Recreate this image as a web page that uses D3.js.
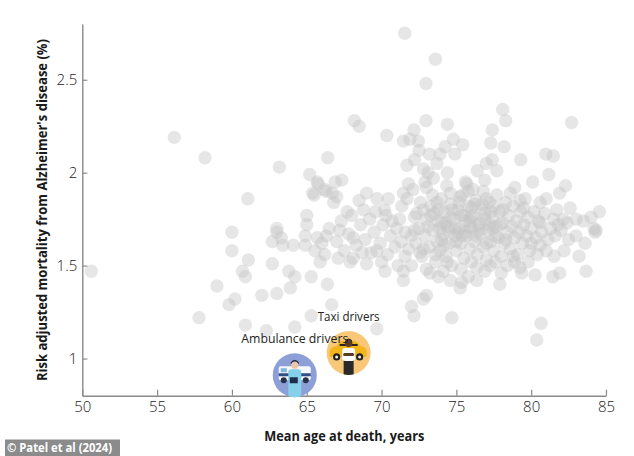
<!DOCTYPE html>
<html><head><meta charset="utf-8">
<script src="https://cdn.jsdelivr.net/npm/d3@7"></script>
<style>
html,body{margin:0;padding:0;background:#fff;}
svg{display:block;}
</style></head>
<body>
<svg id="chart" width="634" height="456"></svg>
<script>
// ---- data ----
const ages = [
50.6,56.15,58.2,57.8,59.0,59.8,60.2,60.9,60.9,61.1,60.7,60.0,60.0,61.06,62.0,63.0,63.9,62.7,63.8,64.2,
65.3,65.3,64.2,62.3,62.7,63.4,64.1,64.9,65.55,63.0,64.9,63.0,63.17,65.2,65.7,65.4,65.0,65.0,63.3,65.7,
66.3,67.2,68.1,66.4,66.9,66.7,66.2,66.8,67.7,68.5,69.0,69.7,70.45,70.2,68.8,65.77,65.5,66.3,67.0,67.34,
69.2,70.7,72.2,72.8,73.7,74.6,75.25,76.1,71.35,71.7,71.55,73.6,72.97,78.1,78.3,82.7,68.18,68.5,72.97,74.4,
70.35,72.17,71.46,71.9,74.8,75.43,77.4,77.3,78.19,79.3,80.98,81.48,81.18,82.3,84.56,81.9,74.4,74.9,73.9,73.2,
72.5,72.2,71.7,73.1,73.46,72.9,71.46,71.8,72.1,71.2,72.35,75.7,76.4,77.0,77.7,76.9,78.9,80.1,79.25,80.6,
81.0,81.7,82.6,83.0,83.5,82.15,81.5,84.2,84.34,82.4,81.8,81.53,83.2,83.67,81.9,81.45,80.26,79.37,78.9,77.9,
80.6,80.0,80.6,77.4,76.36,75.25,75.36,74.7,80.66,80.37,72.8,73.0,72.0,72.17,69.68,66.67,66.38,71.46,70.23,71.46,
73.24,74.13,76.36,77.25,78.8,79.25,84.27,68.1,67.1,69.0,69.68,71.57,72.57,72.46,74.25,72.8,73.7,73.0,74.36,75.6,
66.0,66.5,67.0,67.5,67.8,68.3,68.6,68.9,69.3,69.5,69.9,70.1,70.4,70.6,70.9,71.0,71.3,71.6,71.8,72.0,
66.2,67.3,68.0,69.6,70.3,71.1,70.0,68.7,67.9,65.9,
72.3,72.5,72.7,72.9,73.0,73.2,73.3,73.4,73.6,73.7,73.8,73.9,74.0,74.1,74.2,74.3,74.4,74.5,74.6,74.7,
74.8,74.9,75.0,75.1,75.2,75.3,75.4,75.5,75.6,75.7,75.8,75.9,76.0,76.1,76.2,76.3,76.4,76.5,76.6,76.7,
76.8,76.9,77.0,77.1,77.2,77.3,77.4,77.5,77.6,77.7,77.8,77.9,78.0,78.1,78.2,78.3,78.4,78.5,78.6,78.7,
78.8,78.9,79.0,79.1,79.2,79.3,79.4,79.5,79.6,79.7,79.8,79.9,80.0,80.2,80.3,80.5,80.7,80.9,81.1,81.3,
81.6,82.0,82.5,83.0,83.6,84.0,
73.1,73.5,73.9,74.2,74.6,74.9,75.3,75.6,75.9,76.3,76.6,77.0,77.3,77.6,77.9,78.3,74.0,75.0,76.0,77.0,
72.6,73.4,75.8,76.8,78.6,79.5,72.2,72.8,73.6,74.4,75.3,76.0,76.9,77.6,78.4,79.8,80.4,81.0,82.2,72.0,
73.0,73.8,74.6,78.0,75.8,
74.3,74.7,75.1,75.5,75.9,76.2,76.5,76.9,77.2,77.5,73.8,74.5,75.2,76.0,76.7,77.4,78.1,73.3,74.0,75.4
];
const rates = [
1.47,2.19,2.08,1.22,1.39,1.29,1.32,1.18,1.44,1.53,1.47,1.58,1.68,1.86,1.34,1.35,1.38,1.51,1.47,1.44,
1.44,1.23,1.17,1.15,1.63,1.61,1.61,1.61,1.58,1.68,1.66,1.70,2.03,1.99,1.95,1.89,1.77,1.72,1.65,1.65,
1.66,1.69,1.65,2.08,1.95,1.89,1.91,1.84,1.79,1.85,1.89,1.86,1.86,1.80,1.80,1.94,1.88,1.90,1.87,1.96,
1.75,1.74,1.76,1.80,1.84,1.89,1.87,1.91,1.82,1.86,2.75,2.61,2.48,2.34,2.28,2.27,2.28,2.25,2.28,2.26,
2.20,2.23,2.17,2.18,2.18,2.15,2.23,2.16,2.14,2.07,2.10,2.09,1.99,1.93,1.79,1.89,2.00,2.10,2.10,2.10,
2.12,2.07,2.04,2.00,1.97,1.95,1.89,1.94,1.91,1.75,1.78,1.94,2.01,2.05,2.01,1.96,1.92,1.95,1.85,1.84,
1.86,1.80,1.81,1.75,1.74,1.75,1.75,1.70,1.69,1.73,1.72,1.55,1.55,1.47,1.46,1.44,1.45,1.46,1.52,1.40,
1.61,1.62,1.73,2.07,1.42,1.38,1.41,1.22,1.19,1.10,1.32,1.34,1.28,1.23,1.16,1.29,1.40,1.42,1.47,1.47,
1.46,1.47,1.49,1.50,1.55,1.49,1.68,1.54,1.54,1.51,1.58,1.55,1.57,2.17,2.14,2.02,2.05,1.92,1.93,1.95,
1.62,1.70,1.63,1.58,1.67,1.61,1.72,1.64,1.57,1.68,1.62,1.72,1.56,1.66,1.60,1.70,1.63,1.68,1.59,1.66,
1.56,1.74,1.77,1.79,1.77,1.50,1.52,1.57,1.52,1.52,
1.62,1.70,1.55,1.66,1.75,1.60,1.82,1.69,1.52,1.63,1.74,1.58,1.86,1.67,1.79,1.55,1.71,1.62,1.83,1.50,
1.75,1.66,1.58,1.80,1.70,1.62,1.88,1.54,1.74,1.66,1.82,1.59,1.70,1.77,1.63,1.85,1.56,1.72,1.67,1.80,
1.60,1.75,1.53,1.69,1.84,1.63,1.76,1.58,1.71,1.88,1.65,1.79,1.55,1.73,1.62,1.84,1.68,1.77,1.59,1.71,
1.82,1.65,1.74,1.56,1.68,1.79,1.62,1.72,1.86,1.66,1.76,1.58,1.70,1.79,1.65,1.74,1.68,1.78,1.64,1.70,
1.66,1.69,1.64,1.66,1.62,1.76,
1.71,1.78,1.70,1.61,1.76,1.70,1.77,1.68,1.74,1.66,1.73,1.62,1.79,1.66,1.72,1.64,1.64,1.63,1.81,1.86,
1.84,1.88,1.90,1.90,1.89,1.81,1.69,1.59,1.56,1.52,1.48,1.52,1.47,1.52,1.50,1.52,1.56,1.58,1.58,1.50,
1.48,1.44,1.42,1.46,1.44,
1.73,1.80,1.68,1.77,1.71,1.83,1.69,1.78,1.72,1.82,1.80,1.69,1.84,1.76,1.83,1.70,1.80,1.77,1.73,1.66
];
const groups = ["Ambulance drivers", "Taxi drivers"];
const groupAges = [64.2, 67.8];
const groupRates = [0.91, 1.03];
const xTicks = [50, 55, 60, 65, 70, 75, 80, 85];
const yTicks = [1, 1.5, 2, 2.5];
const xTitle = "Mean age at death, years";
const yTitle = "Risk adjusted mortality from Alzheimer's disease (%)";
const credit = "\u00a9 Patel et al (2024)";

// ---- layout ----
const svg = d3.select("#chart");
const x = d3.scaleLinear().domain([50, 85]).range([82.3, 606]);
const y = d3.scaleLinear().domain([0.8, 2.8]).range([395.7, 24]);
const pts = ages.map((a, i) => ({age: a, rate: rates[i]}));

// points
svg.append("g").selectAll("circle").data(pts).join("circle")
  .attr("cx", d => x(d.age)).attr("cy", d => y(d.rate)).attr("r", 6.7)
  .attr("fill", "#c3c3c3").attr("fill-opacity", 0.42);

// axes
const axisColor = "#8a8a8a";
const tickFont = "'Open Sans', 'DejaVu Sans', sans-serif";
const gx = svg.append("g").attr("transform", `translate(0,${y(0.8)})`)
  .call(d3.axisBottom(x).tickValues(xTicks).tickFormat(d3.format("d")).tickSizeInner(-6).tickSizeOuter(0).tickPadding(6));
const gy = svg.append("g").attr("transform", `translate(${x(50)},0)`)
  .call(d3.axisLeft(y).tickValues(yTicks).tickFormat(d => String(d)).tickSizeInner(-5).tickSizeOuter(0).tickPadding(5));
[gx, gy].forEach(g => {
  g.select(".domain").attr("stroke", axisColor).attr("stroke-width", 1.4);
  g.selectAll(".tick line").attr("stroke", axisColor).attr("stroke-width", 1.2);
  g.selectAll(".tick text").attr("fill", "#222").style("font-family", tickFont)
    .style("font-size", "15px").style("font-weight", 300);
});

// highlighted groups
const gd = groups.map((g, i) => ({name: g, age: groupAges[i], rate: groupRates[i]}));
const defs = svg.append("defs");
gd.forEach((d, i) => {
  defs.append("clipPath").attr("id", "clip" + i)
    .append("circle").attr("cx", 0).attr("cy", 0).attr("r", 22);
});
const badges = svg.append("g").selectAll("g").data(gd).join("g")
  .attr("transform", d => `translate(${x(d.age)},${y(d.rate)})`);
badges.append("circle").attr("r", 22).attr("fill", (d, i) => i === 0 ? "#8c9fd7" : "#f8c878");

// ambulance icon
const amb = badges.filter((d, i) => i === 0).append("g").attr("clip-path", "url(#clip0)");
amb.append("rect").attr("x", -16).attr("y", -9).attr("width", 32).attr("height", 14).attr("rx", 2).attr("fill", "#f4f7fb");
amb.append("rect").attr("x", -16).attr("y", -2).attr("width", 32).attr("height", 3).attr("fill", "#2f4f86");
amb.append("rect").attr("x", -14).attr("y", -7).attr("width", 6).attr("height", 4).attr("fill", "#7fb6d9");
amb.append("circle").attr("cx", -11).attr("cy", 5).attr("r", 3).attr("fill", "#26324a");
amb.append("circle").attr("cx", 11).attr("cy", 5).attr("r", 3).attr("fill", "#26324a");
amb.append("rect").attr("x", -6.5).attr("y", -6).attr("width", 13).attr("height", 30).attr("rx", 3).attr("fill", "#86d0ea");
amb.append("rect").attr("x", -5).attr("y", 2).attr("width", 8).attr("height", 6).attr("fill", "#1f2d4d");
amb.append("circle").attr("cx", 0).attr("cy", -10).attr("r", 3.6).attr("fill", "#f0c6a8");
amb.append("path").attr("d", "M-4,-11 Q0,-17 4,-11 L4,-13 Q0,-18 -4,-13 Z").attr("fill", "#2b2c3d");

// taxi icon
const taxi = badges.filter((d, i) => i === 1).append("g").attr("clip-path", "url(#clip1)");
taxi.append("path").attr("d", "M-19,4 L-19,-2 Q-18,-6 -12,-7 L-8,-12 L7,-12 L12,-7 Q18,-6 18,-2 L18,4 Z").attr("fill", "#f3b51c");
taxi.append("rect").attr("x", -9).attr("y", -9).attr("width", 18).attr("height", 2).attr("fill", "#222");
taxi.append("circle").attr("cx", -12).attr("cy", 4).attr("r", 3.6).attr("fill", "#222");
taxi.append("circle").attr("cx", 11).attr("cy", 4).attr("r", 3.6).attr("fill", "#222");
taxi.append("circle").attr("cx", -12).attr("cy", 4).attr("r", 1.5).attr("fill", "#eee");
taxi.append("circle").attr("cx", 11).attr("cy", 4).attr("r", 1.5).attr("fill", "#eee");
taxi.append("rect").attr("x", -5).attr("y", 7).attr("width", 10).attr("height", 16).attr("fill", "#2a2a2a");
taxi.append("rect").attr("x", -6.5).attr("y", -5).attr("width", 13).attr("height", 13).attr("rx", 3).attr("fill", "#fbfbfb");
taxi.append("rect").attr("x", -5.5).attr("y", 0).attr("width", 11).attr("height", 3).attr("rx", 1.5).attr("fill", "#5b3a28");
taxi.append("circle").attr("cx", 0).attr("cy", -9.5).attr("r", 3.6).attr("fill", "#5b3a28");
taxi.append("path").attr("d", "M-4,-10 Q0,-17 4,-10 L3,-13 Q0,-16 -3,-13 Z").attr("fill", "#1c1c1c");

// group labels (drawn above all badges)
const labelWidths = [107, 62];
svg.append("g").selectAll("text").data(gd).join("text").text(d => d.name)
  .attr("x", d => x(d.age)).attr("y", d => y(d.rate) - 32.3).attr("text-anchor", "middle")
  .attr("textLength", (d, i) => labelWidths[i]).attr("lengthAdjust", "spacingAndGlyphs")
  .style("font-family", tickFont).style("font-size", "13.5px").attr("fill", "#222");

// axis titles
svg.append("text").text(xTitle).attr("x", 344.3).attr("y", 440.7).attr("text-anchor", "middle")
  .attr("textLength", 160).attr("lengthAdjust", "spacingAndGlyphs")
  .style("font-family", tickFont).style("font-size", "14.5px").style("font-weight", 700).attr("fill", "#1a1a1a");
svg.append("text").text(yTitle).attr("transform", "translate(47,210) rotate(-90)").attr("text-anchor", "middle")
  .attr("textLength", 342).attr("lengthAdjust", "spacingAndGlyphs")
  .style("font-family", tickFont).style("font-size", "14.5px").style("font-weight", 700).attr("fill", "#1a1a1a");

// credit
svg.append("rect").attr("x", 5).attr("y", 439.5).attr("width", 115).attr("height", 16.5).attr("fill", "#8b8b8b");
svg.append("text").text(credit).attr("x", 7).attr("y", 451.7)
  .attr("textLength", 105).attr("lengthAdjust", "spacingAndGlyphs")
  .style("font-family", tickFont).style("font-size", "12px").style("font-weight", 700).attr("fill", "#fff");
</script>
</body></html>
